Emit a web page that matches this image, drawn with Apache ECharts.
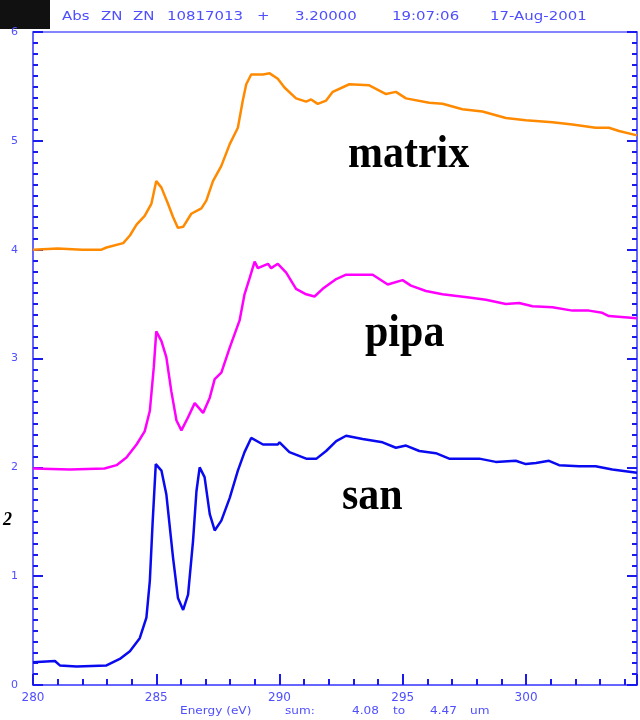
<!DOCTYPE html>
<html>
<head>
<meta charset="utf-8">
<script src="https://cdn.jsdelivr.net/npm/echarts@6/dist/echarts.min.js"></script>
<style>
html,body{margin:0;padding:0;background:#fff;}
#chart{width:640px;height:720px;}
</style>
</head>
<body>
<div id="chart"></div>
<script>
// ---- data ----
var matrixE = [280.0, 281.0, 282.0, 282.78, 282.98, 283.66, 283.93, 284.2, 284.53, 284.8, 285.0, 285.21, 285.48, 285.68, 285.88, 286.09, 286.42, 286.83, 287.03, 287.3, 287.64, 287.98, 288.31, 288.51, 288.65, 288.85, 289.33, 289.6, 289.93, 290.2, 290.67, 291.08, 291.28, 291.55, 291.89, 292.16, 292.83, 293.64, 294.32, 294.72, 295.13, 296.07, 296.61, 297.42, 298.23, 299.18, 299.99, 301.07, 301.88, 302.82, 303.36, 303.77, 304.5];
var matrixV = [4.00, 4.01, 4.00, 4.00, 4.02, 4.06, 4.13, 4.23, 4.31, 4.42, 4.63, 4.57, 4.42, 4.30, 4.20, 4.21, 4.33, 4.38, 4.45, 4.63, 4.77, 4.97, 5.12, 5.37, 5.52, 5.61, 5.61, 5.62, 5.57, 5.49, 5.39, 5.36, 5.38, 5.34, 5.37, 5.45, 5.52, 5.51, 5.43, 5.45, 5.39, 5.35, 5.34, 5.29, 5.27, 5.21, 5.19, 5.17, 5.15, 5.12, 5.12, 5.09, 5.05];

var pipaE = [280.0, 281.5, 282.9, 283.39, 283.79, 284.2, 284.53, 284.74, 284.9, 285.0, 285.21, 285.41, 285.61, 285.82, 286.02, 286.29, 286.56, 286.9, 287.17, 287.37, 287.64, 287.98, 288.38, 288.58, 288.79, 288.99, 289.12, 289.53, 289.66, 289.93, 290.27, 290.67, 291.08, 291.42, 291.75, 292.3, 292.7, 293.78, 294.39, 294.99, 295.33, 295.94, 296.61, 297.69, 298.37, 299.18, 299.72, 300.26, 301.07, 301.88, 302.55, 303.09, 303.36, 304.5];
var pipaV = [1.99, 1.98, 1.99, 2.02, 2.09, 2.21, 2.33, 2.52, 2.92, 3.25, 3.16, 3.01, 2.70, 2.43, 2.34, 2.46, 2.59, 2.50, 2.64, 2.81, 2.87, 3.10, 3.35, 3.59, 3.74, 3.89, 3.83, 3.87, 3.83, 3.87, 3.79, 3.64, 3.59, 3.57, 3.64, 3.73, 3.77, 3.77, 3.68, 3.72, 3.67, 3.62, 3.59, 3.56, 3.54, 3.50, 3.51, 3.48, 3.47, 3.44, 3.44, 3.42, 3.39, 3.37];

var sanE = [280.0, 280.89, 281.09, 281.77, 282.98, 283.52, 283.93, 284.33, 284.6, 284.74, 284.85, 284.98, 285.21, 285.41, 285.68, 285.88, 286.09, 286.29, 286.49, 286.63, 286.76, 286.96, 287.17, 287.37, 287.64, 287.98, 288.31, 288.58, 288.85, 289.33, 289.93, 290.0, 290.4, 291.08, 291.5, 291.89, 292.3, 292.7, 293.37, 294.18, 294.72, 295.13, 295.67, 296.34, 296.88, 298.1, 298.77, 299.58, 299.99, 300.4, 300.93, 301.34, 302.15, 302.82, 303.5, 304.5];
var sanV = [0.21, 0.22, 0.18, 0.17, 0.18, 0.24, 0.31, 0.43, 0.62, 0.96, 1.48, 2.03, 1.97, 1.75, 1.17, 0.80, 0.69, 0.83, 1.32, 1.78, 2.00, 1.91, 1.57, 1.42, 1.51, 1.72, 1.97, 2.14, 2.27, 2.21, 2.21, 2.23, 2.14, 2.08, 2.08, 2.15, 2.24, 2.29, 2.26, 2.23, 2.18, 2.20, 2.15, 2.13, 2.08, 2.08, 2.05, 2.06, 2.03, 2.04, 2.06, 2.02, 2.01, 2.01, 1.98, 1.95];

var seriesNames = ['matrix', 'pipa', 'san'];
var xTickLabels = ['280', '285', '290', '295', '300'];
var yTickLabels = ['0', '1', '2', '3', '4', '5', '6'];
var headerTokens = ['Abs', 'ZN', 'ZN', '10817013', '+', '3.20000', '19:07:06', '17-Aug-2001'];
var footerTokens = ['Energy (eV)', 'sum:', '4.08', 'to', '4.47', 'um'];

function pairs(E, V) { return E.map(function (e, i) { return [e, V[i]]; }); }

var AX = '#5c5cff', TK = '#1a1aee', LB = '#4f4fff';
var chart = echarts.init(document.getElementById('chart'));

var headerX = [62, 101, 133, 167, 257, 295, 392, 490];
var footerX = [180, 285, 352, 393, 430, 470];

var graphics = [
  { type: 'rect', left: 0, top: 0, shape: { width: 50, height: 29 }, style: { fill: '#111' } }
];
headerTokens.forEach(function (t, i) {
  graphics.push({ type: 'text', x: headerX[i], y: 17, scaleX: 1.15, style: { text: t, font: '13px "DejaVu Sans"', fill: LB, verticalAlign: 'middle', align: 'left' } });
});
footerTokens.forEach(function (t, i) {
  graphics.push({ type: 'text', x: footerX[i], y: 711, scaleX: 1.1, style: { text: t, font: '11px "DejaVu Sans"', fill: LB, verticalAlign: 'middle', align: 'left' } });
});
var labelPos = [[348, 155], [365, 334], [342, 497]];
seriesNames.forEach(function (t, i) {
  graphics.push({ type: 'text', x: labelPos[i][0], y: labelPos[i][1], scaleY: 1.12, style: { text: t, font: 'bold 42px "Liberation Serif"', fill: '#000', verticalAlign: 'middle', align: 'left' } });
});
graphics.push({ type: 'text', x: 3, y: 520, style: { text: '2', font: 'italic bold 18px "Liberation Serif"', fill: '#000', verticalAlign: 'middle', align: 'left' } });

function yAxisDef(pos, showLabel) {
  return {
    type: 'value', position: pos, min: 0, max: 6, interval: 1,
    axisLine: { show: true, lineStyle: { color: AX, width: 1.5 } },
    axisTick: { show: true, inside: true, length: 10, lineStyle: { color: TK, width: 2 } },
    minorTick: { show: true, splitNumber: 10, length: 5, lineStyle: { color: TK, width: 2 } },
    splitLine: { show: true, lineStyle: { color: 'rgba(0,0,0,0)' } },
    axisLabel: { show: showLabel, margin: 15, color: LB, fontSize: 11, fontFamily: 'DejaVu Sans',
      formatter: function (v) { return yTickLabels[Math.round(v)]; } }
  };
}

var colors = ['#ff8a00', '#ff00ff', '#0a0af0'];
var datas = [pairs(matrixE, matrixV), pairs(pipaE, pipaV), pairs(sanE, sanV)];

chart.setOption({
  animation: false,
  backgroundColor: '#fff',
  grid: { left: 33, right: 2, top: 32, bottom: 35, show: true, borderColor: AX, borderWidth: 1.5, backgroundColor: 'rgba(0,0,0,0)' },
  xAxis: [{
    type: 'value', min: 280, max: 304.5, interval: 5,
    axisLine: { show: true, lineStyle: { color: AX, width: 1.5 } },
    axisTick: { show: true, inside: true, length: 11, lineStyle: { color: TK, width: 2 } },
    minorTick: { show: true, splitNumber: 5, length: 6, lineStyle: { color: TK, width: 2 } },
    splitLine: { show: true, lineStyle: { color: 'rgba(0,0,0,0)' } },
    axisLabel: { margin: 7, color: LB, fontSize: 12, fontFamily: 'DejaVu Sans',
      formatter: function (v) { var k = xTickLabels.indexOf(String(v)); return k >= 0 ? xTickLabels[k] : ''; } }
  }],
  yAxis: [yAxisDef('left', true), yAxisDef('right', false)],
  series: seriesNames.map(function (n, i) {
    return { name: n, type: 'line', xAxisIndex: 0, yAxisIndex: 0, data: datas[i], showSymbol: false,
      lineStyle: { color: colors[i], width: 2.5 }, clip: true };
  }),
  graphic: graphics
});
</script>
</body>
</html>
